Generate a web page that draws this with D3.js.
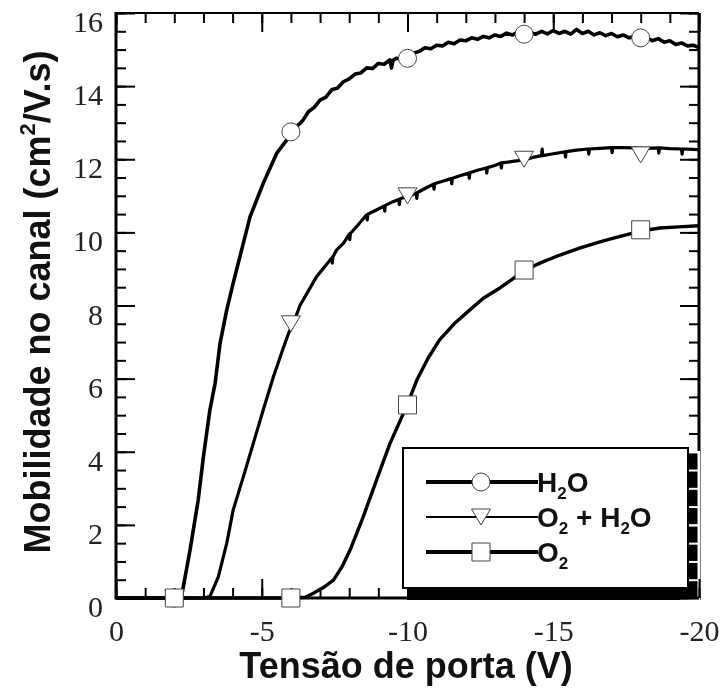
<!DOCTYPE html>
<html>
<head>
<meta charset="utf-8">
<script src="https://cdn.jsdelivr.net/npm/d3@7"></script>
<style>
  body { margin: 0; background: #fff; }
  svg { display: block; }
</style>
</head>
<body>
<svg id="chart" width="724" height="693"></svg>
<script>
// Gate voltage (V) and channel mobility (cm²/V.s) for each ambient
const h2oVoltage = [0, -1, -2, -2.25, -2.54, -2.82, -3.0, -3.22, -3.4, -3.57, -3.8, -4.02, -4.31, -4.6, -5.05, -5.51, -5.86, -6.03,
  -6.2, -6.4, -6.6, -6.8, -7.0, -7.2, -7.4, -7.6, -7.8, -8.0, -8.2, -8.4, -8.6, -8.8, -9.0, -9.2, -9.4, -9.45, -9.5, -9.6, -9.8,
  -10.0, -10.2, -10.4, -10.6, -10.8, -11.0, -11.2, -11.4, -11.6, -11.8, -12.0, -12.2, -12.4, -12.6, -12.8, -13.0, -13.2, -13.4,
  -13.6, -13.8, -14.0, -14.2, -14.4, -14.6, -14.8, -15.0, -15.2, -15.4, -15.6, -15.8, -16.0, -16.2, -16.4, -16.6, -16.8, -17.0,
  -17.2, -17.4, -17.6, -17.8, -18.0, -18.2, -18.4, -18.6, -18.8, -19.0, -19.2, -19.4, -19.6, -19.8, -20.0];
const h2oMobility = [0, 0, 0, 0.05, 1.31, 2.68, 3.87, 5.14, 5.87, 6.97, 7.88, 8.61, 9.52, 10.43, 11.34, 12.16, 12.53, 12.73,
  12.9, 13.05, 13.3, 13.42, 13.62, 13.7, 13.9, 13.95, 14.12, 14.2, 14.33, 14.36, 14.5, 14.48, 14.62, 14.6, 14.72, 14.5, 14.7, 14.76, 14.74,
  14.8, 14.9, 14.95, 15.05, 15.02, 15.12, 15.1, 15.2, 15.16, 15.26, 15.24, 15.32, 15.28, 15.36, 15.32, 15.4, 15.36, 15.45,
  15.4, 15.48, 15.42, 15.47, 15.42, 15.5, 15.43, 15.52, 15.44, 15.5, 15.42, 15.55, 15.44, 15.5, 15.4, 15.46, 15.38, 15.44,
  15.35, 15.4, 15.32, 15.36, 15.3, 15.33, 15.24, 15.3, 15.2, 15.24, 15.14, 15.18, 15.1, 15.12, 15.05];

const o2h2oVoltage = [0, -1, -2, -3, -3.22, -3.51, -3.8, -4.02, -4.37, -4.71, -5.05, -5.4, -5.7, -5.92, -6.1, -6.31, -6.6, -6.88,
  -7.2, -7.4, -7.42, -7.44, -7.57, -7.8, -8.0, -8.02, -8.04, -8.3, -8.6, -8.62, -8.64, -8.9, -9.2, -9.22, -9.24, -9.5, -9.7,
  -9.72, -9.74, -10.0, -10.3, -10.32, -10.34, -10.6, -10.89, -10.91, -10.93, -11.2, -11.5, -11.52, -11.54, -11.8, -12.1, -12.12,
  -12.14, -12.4, -12.7, -12.72, -12.74, -13.0, -13.2, -13.22, -13.24, -13.6, -14.0, -14.3, -14.6, -14.62, -14.64, -15.0, -15.4,
  -15.42, -15.44, -15.8, -16.2, -16.22, -16.24, -16.6, -17.0, -17.02, -17.04, -17.4, -17.8, -18.2, -18.6, -18.62, -18.64, -19.0,
  -19.4, -19.42, -19.44, -19.8, -20];
const o2h2oMobility = [0, 0, 0, 0, 0.04, 0.58, 1.5, 2.41, 3.32, 4.23, 5.14, 6.05, 6.75, 7.24, 7.55, 8.0, 8.4, 8.79,
  9.1, 9.3, 9.16, 9.33, 9.52, 9.7, 9.95, 9.8, 9.97, 10.2, 10.48, 10.34, 10.5, 10.6, 10.72, 10.58, 10.74, 10.84, 10.9,
  10.76, 10.92, 10.98, 11.07, 10.93, 11.09, 11.2, 11.32, 11.18, 11.33, 11.4, 11.47, 11.33, 11.48, 11.55, 11.62, 11.48,
  11.63, 11.7, 11.76, 11.62, 11.77, 11.83, 11.9, 11.76, 11.9, 11.94, 11.98, 12.05, 12.1, 12.28, 12.1, 12.15, 12.2,
  12.06, 12.21, 12.25, 12.28, 12.14, 12.28, 12.3, 12.32, 12.18, 12.32, 12.32, 12.31, 12.3, 12.31, 12.17, 12.31, 12.29,
  12.28, 12.14, 12.28, 12.27, 12.26];

const o2Voltage = [0, -2, -4, -6, -6.5, -6.77, -7.1, -7.46, -7.75, -8.03, -8.48, -8.94, -9.4, -9.86, -10.0, -10.32, -10.7, -11.1,
  -11.6, -12.14, -12.6, -13.17, -13.6, -14.03, -14.6, -15.23, -15.9, -16.6, -17.1, -17.63, -18.1, -18.66, -19.3, -20];
const o2Mobility = [0, 0, 0, 0, 0.02, 0.13, 0.28, 0.49, 0.85, 1.31, 2.22, 3.23, 4.23, 5.05, 5.3, 5.96, 6.55, 7.06,
  7.5, 7.88, 8.2, 8.48, 8.72, 8.97, 9.18, 9.38, 9.57, 9.74, 9.85, 9.96, 10.05, 10.12, 10.15, 10.18];

// Symbol positions along each curve
const markerVoltage = [-2, -6, -10, -14, -18];
const h2oMarkers = [0, 12.75, 14.76, 15.42, 15.32];
const o2h2oMarkers = [0, 7.5, 11.0, 12.0, 12.12];
const o2Markers = [0, 0, 5.28, 8.97, 10.07];

const xTickValues = [0, -5, -10, -15, -20];
const yTickValues = [0, 2, 4, 6, 8, 10, 12, 14, 16];

const seriesNames = ["H2O", "O2 + H2O", "O2"];

const svg = d3.select("#chart");
const x = d3.scaleLinear().domain([0, -20]).range([116, 699]);
const y = d3.scaleLinear().domain([0, 16]).range([598, 13]);

svg.append("rect").attr("width", 724).attr("height", 693).attr("fill", "#fff");

// Legend drop shadow (drawn first so the right axis can invert over it)
const legendBox = { x0: 403, y0: 448, x1: 688, y1: 588 };
svg.append("rect")
  .attr("x", legendBox.x0 + 4).attr("y", legendBox.y0 + 3)
  .attr("width", 700 - legendBox.x0 - 4).attr("height", 600 - legendBox.y0 - 3)
  .attr("fill", "#000");

const xMinor = d3.range(0, -20.5, -1);
const xMajor = d3.range(0, -20.5, -5);
const yMinor = d3.range(0, 16.01, 0.5);

function tickLayer(g, axis) {
  g.call(axis);
  g.select(".domain").remove();
  g.selectAll(".tick line").attr("stroke-width", 2);
}

// Right axis: white strokes with difference blending, black on the page, white over the shadow
const rightAxis = svg.append("g").attr("transform", `translate(${x(-20)},0)`).style("mix-blend-mode", "difference");
tickLayer(rightAxis.append("g"), d3.axisRight(y).tickValues(yMinor).tickSize(-10).tickFormat(""));
tickLayer(rightAxis.append("g"), d3.axisRight(y).tickValues(yTickValues).tickSize(-19).tickFormat(""));
rightAxis.selectAll(".tick line").attr("stroke", "#fff");
rightAxis.append("line").attr("x1", 0).attr("x2", 0).attr("y1", y(16)).attr("y2", y(0) + 2)
  .attr("stroke", "#fff").attr("stroke-width", 3);

// Left axis ticks
const leftAxis = svg.append("g").attr("transform", `translate(${x(0)},0)`);
tickLayer(leftAxis.append("g"), d3.axisLeft(y).tickValues(yMinor).tickSize(-10).tickFormat(""));
tickLayer(leftAxis.append("g"), d3.axisLeft(y).tickValues(yTickValues).tickSize(-19).tickFormat(""));

// Top axis ticks
const topAxis = svg.append("g").attr("transform", `translate(0,${y(16)})`);
tickLayer(topAxis.append("g"), d3.axisTop(x).tickValues(xMinor).tickSize(-10).tickFormat(""));
tickLayer(topAxis.append("g"), d3.axisTop(x).tickValues(xMajor).tickSize(-19).tickFormat(""));

// Bottom axis ticks
const bottomAxis = svg.append("g").attr("transform", `translate(0,${y(0)})`);
tickLayer(bottomAxis.append("g"), d3.axisBottom(x).tickValues(xMinor).tickSize(-10).tickFormat(""));
tickLayer(bottomAxis.append("g"), d3.axisBottom(x).tickValues(xMajor).tickSize(-19).tickFormat(""));

// Frame
svg.append("line").attr("x1", x(0)).attr("x2", x(0)).attr("y1", y(16) - 1).attr("y2", y(0) + 1.5)
  .attr("stroke", "#000").attr("stroke-width", 3);
svg.append("line").attr("x1", x(0)).attr("x2", x(-20)).attr("y1", y(16)).attr("y2", y(16))
  .attr("stroke", "#000").attr("stroke-width", 2);
svg.append("line").attr("x1", x(0)).attr("x2", x(-20)).attr("y1", y(0)).attr("y2", y(0))
  .attr("stroke", "#000").attr("stroke-width", 3);

// Tick labels
const yLabels = svg.append("g").attr("transform", `translate(${x(0)},0)`)
  .call(d3.axisLeft(y).tickValues(yTickValues).tickSize(0).tickPadding(13).tickFormat(d => String(d)));
yLabels.select(".domain").remove();
yLabels.selectAll("text").attr("dy", "0.62em");

const xLabels = svg.append("g").attr("transform", `translate(0,${y(0)})`)
  .call(d3.axisBottom(x).tickValues(xTickValues).tickSize(0).tickPadding(22).tickFormat(d => String(d)));
xLabels.select(".domain").remove();

svg.selectAll(".tick text")
  .attr("font-family", "'Liberation Serif', 'Times New Roman', serif")
  .attr("font-size", 30)
  .attr("fill", "#222");

// Curves
const line = d3.line().x(d => x(d[0])).y(d => y(d[1]));
const curves = [
  { v: h2oVoltage, m: h2oMobility, w: 3.6 },
  { v: o2h2oVoltage, m: o2h2oMobility, w: 3.2 },
  { v: o2Voltage, m: o2Mobility, w: 3.4 }
];
curves.forEach(c => {
  svg.append("path")
    .attr("d", line(d3.zip(c.v, c.m)))
    .attr("fill", "none")
    .attr("stroke", "#000")
    .attr("stroke-width", c.w)
    .attr("stroke-linejoin", "round");
});

// Marker shapes
const circleSym = d3.symbol().type(d3.symbolCircle).size(Math.PI * 81);
const squareSym = d3.symbol().type(d3.symbolSquare).size(18 * 18);
const triangleDown = "M-9.5,-8L9.5,-8L0,8Z";

function drawMarkers(values, shape) {
  svg.append("g").selectAll("path")
    .data(d3.zip(markerVoltage, values))
    .join("path")
    .attr("transform", d => `translate(${x(d[0])},${y(d[1])})`)
    .attr("d", shape)
    .attr("fill", "#fff")
    .attr("stroke", "#444")
    .attr("stroke-width", 1);
}
drawMarkers(h2oMarkers, circleSym());
drawMarkers(o2h2oMarkers, triangleDown);
drawMarkers(o2Markers, squareSym());

// Legend
svg.append("rect")
  .attr("x", legendBox.x0).attr("y", legendBox.y0)
  .attr("width", legendBox.x1 - legendBox.x0).attr("height", legendBox.y1 - legendBox.y0)
  .attr("fill", "#fff").attr("stroke", "#000").attr("stroke-width", 2);

const legendRows = [
  { name: seriesNames[0], yLine: 482, w: 4, shape: circleSym(), parts: [["H", 0], ["2", 1], ["O", 0]] },
  { name: seriesNames[1], yLine: 517, w: 2, shape: triangleDown, parts: [["O", 0], ["2", 1], [" + H", 0], ["2", 1], ["O", 0]] },
  { name: seriesNames[2], yLine: 552, w: 4, shape: squareSym(), parts: [["O", 0], ["2", 1]] }
];
legendRows.forEach(r => {
  svg.append("line").attr("x1", 426).attr("x2", 538).attr("y1", r.yLine).attr("y2", r.yLine)
    .attr("stroke", "#000").attr("stroke-width", r.w);
  svg.append("path").attr("transform", `translate(481,${r.yLine})`).attr("d", r.shape)
    .attr("fill", "#fff").attr("stroke", "#444").attr("stroke-width", 1);
  const t = svg.append("text")
    .attr("x", 537).attr("y", r.yLine + 10)
    .attr("font-family", "'Liberation Sans', Arial, sans-serif")
    .attr("font-weight", "bold").attr("font-size", 28).attr("fill", "#111");
  let shifted = false;
  r.parts.forEach(([s, sub]) => {
    const ts = t.append("tspan").text(s).style("white-space", "pre");
    if (sub && !shifted) { ts.attr("dy", 7).attr("font-size", 17); shifted = true; }
    else if (!sub && shifted) { ts.attr("dy", -7); shifted = false; }
  });
});

// Axis titles
const yTitle = svg.append("text")
  .attr("transform", "translate(50,302) rotate(-90)")
  .attr("text-anchor", "middle")
  .attr("font-family", "'Liberation Sans', Arial, sans-serif")
  .attr("font-weight", "bold").attr("font-size", 36).attr("fill", "#111");
yTitle.append("tspan").text("Mobilidade no canal (cm");
yTitle.append("tspan").text("2").attr("font-size", 22).attr("dy", -15);
yTitle.append("tspan").text("/V.s)").attr("dy", 15);

svg.append("text")
  .attr("x", 406).attr("y", 678)
  .attr("text-anchor", "middle")
  .attr("font-family", "'Liberation Sans', Arial, sans-serif")
  .attr("font-weight", "bold").attr("font-size", 36).attr("fill", "#111")
  .text("Tensão de porta (V)");
</script>
</body>
</html>
